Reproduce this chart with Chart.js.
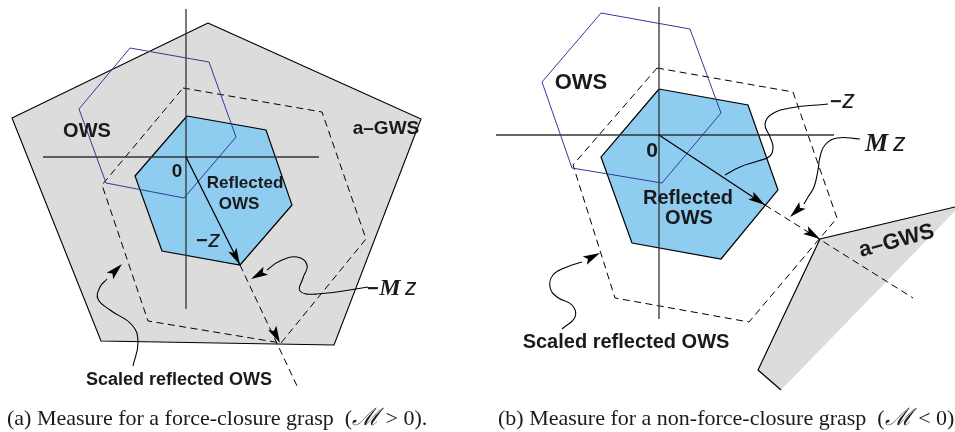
<!DOCTYPE html>
<html>
<head>
<meta charset="utf-8">
<script src="https://cdn.jsdelivr.net/npm/chart.js@4/dist/chart.umd.min.js"></script>
<style>
  html, body { margin: 0; padding: 0; background: #fff; width: 955px; height: 432px; overflow: hidden; }
  #wrap { position: relative; width: 955px; height: 432px; }
  #wrap canvas { position: absolute; left: 0; top: 0; }
  .cap { position: absolute; top: 406px; font: 22px "Liberation Serif", "Times New Roman", serif;
         line-height: 22px; white-space: nowrap; color: #1a1a1a; }
  .cal { font-family: "DejaVu Serif", serif; font-style: italic; font-size: 24px; }
</style>
</head>
<body>
<div id="wrap">
  <canvas id="fig" width="955" height="432"></canvas>
  <div class="cap" style="left:7px">(a) Measure for a force-closure grasp&nbsp; (<span class="cal">ℳ</span> &gt; 0).</div>
  <div class="cap" style="left:498px">(b) Measure for a non-force-closure grasp&nbsp; (<span class="cal">ℳ</span> &lt; 0).</div>
</div>
<script>
// ---- Panel (a): force-closure grasp (wrench plane, y grows downward) ----
const axisVertA   = [[186, 9], [186, 309]];
const axisHorzA   = [[43, 157], [319, 157]];
const gwsA        = [[208, 23], [421, 119], [334, 345], [101, 341], [12, 118]];
const owsA        = [[130, 48], [209, 62], [236, 137], [184, 198], [106, 183], [79, 109]];
const reflOwsA    = [[187, 116], [266, 130], [292, 205], [240, 265], [162, 251], [135, 176]];
const scaledOwsA  = [[183, 88], [322, 112], [366, 239], [281, 343], [148, 321], [102, 185]];
const rayA        = [[186, 157], [240, 265]];
const rayExtA     = [[240, 265], [298, 388]];
const leaderMzA   = [[368, 287], [317, 294], [300, 291], [303, 278], [307, 265], [297, 257], [280, 261], [267, 270]];
const leaderScA   = [[133, 366], [138, 342], [132, 325], [110, 310], [98, 299], [100, 287], [107, 279]];

// ---- Panel (b): non-force-closure grasp ----
const axisVertB   = [[659, 7], [659, 319]];
const axisHorzB   = [[496, 135], [834, 135]];
const owsB        = [[601, 13], [690, 29], [721, 113], [662, 183], [572, 168], [542, 82]];
const reflOwsB    = [[659, 89], [748, 105], [778, 190], [721, 259], [632, 243], [601, 157]];
const scaledOwsB  = [[657, 68], [793, 92], [837, 218], [749, 322], [615, 298], [573, 165]];
const gwsFillB    = [[820, 239], [955, 207], [955, 211], [781, 390], [758, 370]];
const gwsEdgeB    = [[955, 207], [820, 239], [758, 370], [781, 390]];
const rayB        = [[659, 135], [765, 205]];
const rayExtB     = [[765, 205], [913, 298]];
const leaderZB    = [[828, 104], [790, 108], [772, 114], [765, 124], [770, 137], [773, 147], [770, 156], [758, 161], [740, 167], [725, 175]];
const leaderMzB   = [[860, 139], [837, 138], [825, 145], [820, 157], [818, 170], [814, 187], [808, 197], [804, 204]];
const leaderScB   = [[562, 329], [575, 317], [572, 305], [557, 297], [550, 287], [553, 275], [567, 267], [582, 262]];

// arrowheads: [from, tip]
const arrowHeads = [
  [[186, 157], [240, 265]],
  [[240, 265], [280, 343]],
  [[267, 270], [251, 279]],
  [[107, 279], [122, 264]],
  [[659, 135], [765, 205]],
  [[765, 205], [820, 239]],
  [[804, 204], [790, 217]],
  [[582, 262], [600, 253]]
];

// label texts
const textA = ['OWS', 'a–GWS', '0', 'Reflected', 'OWS', 'Scaled reflected OWS'];
const textB = ['OWS', 'a–GWS', '0', 'Reflected', 'OWS', 'Scaled reflected OWS'];
const mathSyms = ['−', 'M', 'z'];

const GRAY = '#dcdcdd';
const SKY = '#8ecdf0';
const NAVY = '#2f3c98';
const INK = '#1a1a1a';

const pts = arr => arr.map(([x, y]) => ({ x, y }));
const ring = arr => pts(arr.concat([arr[0]]));

function path(data, o) {
  return Object.assign({
    data, showLine: true, pointRadius: 0, pointHoverRadius: 0,
    borderWidth: 1.1, borderColor: '#000', backgroundColor: 'rgba(0,0,0,0)',
    fill: false, tension: 0, borderJoinStyle: 'miter', borderCapStyle: 'butt'
  }, o);
}

// listed bottom to top
const layers = [
  path(ring(gwsA), { fill: 'shape', backgroundColor: GRAY }),
  path(ring(scaledOwsA), { borderDash: [7, 4.5], borderWidth: 1 }),
  path(ring(reflOwsA), { fill: 'shape', backgroundColor: SKY, borderWidth: 1.2 }),
  path(pts(axisVertA), { borderColor: '#333', borderWidth: 1.3 }),
  path(pts(axisHorzA), { borderColor: '#333', borderWidth: 1.3 }),
  path(ring(owsA), { borderColor: NAVY, borderWidth: 1 }),
  path(pts(rayA), { borderWidth: 1.2 }),
  path(pts(rayExtA), { borderDash: [7, 4.5], borderWidth: 1 }),
  path(pts(leaderMzA), { tension: 0.45, borderWidth: 1.1 }),
  path(pts(leaderScA), { tension: 0.45, borderWidth: 1.1 }),

  path(pts(gwsFillB), { fill: 'shape', backgroundColor: GRAY, borderColor: 'rgba(0,0,0,0)', borderWidth: 0 }),
  path(pts(gwsEdgeB), { borderWidth: 1.2 }),
  path(ring(scaledOwsB), { borderDash: [7, 4.5], borderWidth: 1 }),
  path(ring(reflOwsB), { fill: 'shape', backgroundColor: SKY, borderWidth: 1.2 }),
  path(pts(axisVertB), { borderColor: '#333', borderWidth: 1.3 }),
  path(pts(axisHorzB), { borderColor: '#333', borderWidth: 1.3 }),
  path(ring(owsB), { borderColor: NAVY, borderWidth: 1 }),
  path(pts(rayB), { borderWidth: 1.2 }),
  path(pts(rayExtB), { borderDash: [7, 4.5], borderWidth: 1 }),
  path(pts(leaderZB), { tension: 0.45, borderWidth: 1.1 }),
  path(pts(leaderMzB), { tension: 0.45, borderWidth: 1.1 }),
  path(pts(leaderScB), { tension: 0.45, borderWidth: 1.1 })
];
layers.forEach((d, i) => { d.order = layers.length - i; });

const sansB = s => `bold ${s}px "Liberation Sans", Arial, Helvetica, sans-serif`;
const sansI = s => `italic ${s}px "Liberation Sans", Arial, Helvetica, sans-serif`;
const serifBI = s => `bold italic ${s}px "Liberation Serif", "Times New Roman", serif`;

// label placement: runs of [text, font], anchor point (baseline), alignment, rotation
const labels = [
  { runs: [[textA[0], sansB(20)]], at: [87, 137], align: 'center' },
  { runs: [[textA[1], sansB(19)]], at: [386, 134], align: 'center' },
  { runs: [[textA[2], sansB(19)]], at: [177, 177], align: 'center' },
  { runs: [[textA[3], sansB(17)]], at: [245, 188], align: 'center' },
  { runs: [[textA[4], sansB(17)]], at: [239, 209], align: 'center' },
  { runs: [[textA[5], sansB(18)]], at: [179, 385], align: 'center' },
  { runs: [[mathSyms[0], sansB(20)], [' ', sansB(2)], [mathSyms[2], sansI(24)]], at: [196, 247], align: 'left' },
  { runs: [[mathSyms[0], sansB(20)], [' ', sansB(2)], [mathSyms[1], serifBI(24)], [' ', sansI(16)], [mathSyms[2], sansI(23)]], at: [367, 295], align: 'left' },

  { runs: [[textB[0], sansB(22)]], at: [581, 89], align: 'center' },
  { runs: [[textB[1], sansB(22)]], at: [861, 257], align: 'left', rot: -15 },
  { runs: [[textB[2], sansB(21)]], at: [652, 157], align: 'center' },
  { runs: [[textB[3], sansB(20)]], at: [688, 204], align: 'center' },
  { runs: [[textB[4], sansB(20)]], at: [689, 224], align: 'center' },
  { runs: [[textB[5], sansB(20)]], at: [626, 348], align: 'center' },
  { runs: [[mathSyms[0], sansB(20)], [' ', sansB(2)], [mathSyms[2], sansI(25)]], at: [830, 108], align: 'left' },
  { runs: [[mathSyms[1], serifBI(26)], [' ', sansI(18)], [mathSyms[2], sansI(25)]], at: [865, 151], align: 'left' }
];

const overlay = {
  id: 'overlay',
  afterDatasetsDraw(chart) {
    const { ctx } = chart;
    const sx = chart.scales.x, sy = chart.scales.y;
    const px = p => [sx.getPixelForValue(p[0]), sy.getPixelForValue(p[1])];

    // arrowheads
    ctx.save();
    ctx.fillStyle = '#000';
    for (const [from, tip] of arrowHeads) {
      const [x1, y1] = px(from), [x2, y2] = px(tip);
      const a = Math.atan2(y2 - y1, x2 - x1);
      const L = 17, W = 4.6, N = 13.5;
      const c = Math.cos(a), s = Math.sin(a);
      ctx.beginPath();
      ctx.moveTo(x2, y2);
      ctx.lineTo(x2 - L * c + W * s, y2 - L * s - W * c);
      ctx.lineTo(x2 - N * c, y2 - N * s);
      ctx.lineTo(x2 - L * c - W * s, y2 - L * s + W * c);
      ctx.closePath();
      ctx.fill();
    }
    ctx.restore();

    // labels
    ctx.save();
    ctx.fillStyle = INK;
    ctx.textBaseline = 'alphabetic';
    ctx.textAlign = 'left';
    for (const lab of labels) {
      const [x, y] = px(lab.at);
      let total = 0;
      for (const [t, f] of lab.runs) { ctx.font = f; total += ctx.measureText(t).width; }
      ctx.save();
      ctx.translate(x, y);
      if (lab.rot) ctx.rotate(lab.rot * Math.PI / 180);
      let cx = lab.align === 'center' ? -total / 2 : 0;
      for (const [t, f] of lab.runs) {
        ctx.font = f;
        ctx.fillText(t, cx, 0);
        cx += ctx.measureText(t).width;
      }
      ctx.restore();
    }
    ctx.restore();
  }
};

new Chart(document.getElementById('fig'), {
  type: 'scatter',
  data: { datasets: layers },
  options: {
    responsive: false,
    devicePixelRatio: 1,
    animation: false,
    events: [],
    layout: { padding: 0 },
    scales: {
      x: { type: 'linear', min: 0, max: 955, display: false },
      y: { type: 'linear', min: 0, max: 432, reverse: true, display: false }
    },
    plugins: { legend: { display: false }, tooltip: { enabled: false } }
  },
  plugins: [overlay]
});
</script>
</body>
</html>
